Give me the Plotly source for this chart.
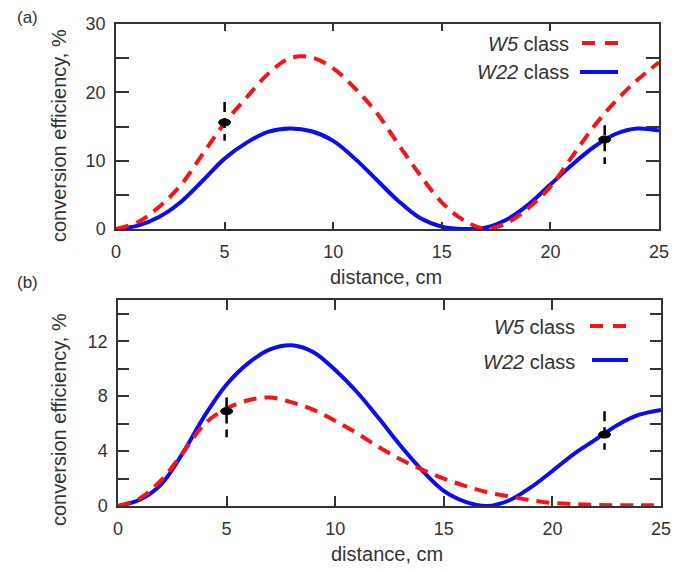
import plotly.graph_objects as go

# ---------------- data ----------------
dist = list(range(0, 26))

# panel (a)
a_w5 = [0, 1.0, 3.3, 6.5, 11.0, 15.5, 19.2, 22.7, 25.0, 25.1, 23.5, 20.6, 17.0, 12.4,
        7.9, 3.9, 1.3, 0.05, 0.9, 3.1, 6.2, 10.6, 15.0, 18.7, 21.8, 24.4]
a_w22 = [0, 0.5, 1.8, 4.0, 7.1, 10.3, 12.6, 14.2, 14.7, 14.3, 12.9, 10.3, 7.2, 4.1,
         1.6, 0.35, 0.0, 0.2, 1.4, 3.6, 6.5, 9.4, 12.0, 13.9, 14.7, 14.4]
a_meas_x = [5.0, 22.5]
a_meas_y = [15.6, 13.1]
a_err_plus = [3.0, 2.1]
a_err_minus = [2.7, 3.6]

# panel (b)
b_w5 = [0, 0.55, 1.9, 3.9, 6.0, 7.1, 7.7, 7.9, 7.55, 7.0, 6.2, 5.3, 4.3, 3.4,
        2.65, 2.0, 1.45, 1.0, 0.7, 0.42, 0.22, 0.14, 0.08, 0.06, 0.05, 0.05]
b_w22 = [0, 0.45, 1.6, 3.9, 6.6, 8.85, 10.4, 11.4, 11.7, 11.2, 9.9, 8.3, 6.4, 4.4,
         2.6, 1.1, 0.3, 0.0, 0.4, 1.35, 2.55, 3.8, 4.85, 5.9, 6.65, 7.0]
b_meas_x = [5.0, 22.4]
b_meas_y = [6.9, 5.2]
b_err_plus = [1.0, 1.7]
b_err_minus = [1.9, 1.1]

x_ticks = [0, 5, 10, 15, 20, 25]
a_yticks = [0, 5, 10, 15, 20, 25, 30]
a_yticktext = ["0", "", "10", "", "20", "", "30"]
b_yticks = [0, 2, 4, 6, 8, 10, 12, 14]
b_yticktext = ["0", "", "4", "", "8", "", "12", ""]

series_names = ["<i>W5</i> class", "<i>W22</i> class"]
panel_labels = ["(a)", "(b)"]
x_title = "distance, cm"
y_title = "conversion efficiency, %"

# ---------------- style ----------------
RED = "#f81414"
BLUE = "#0c0cec"
TXT = "#333333"
FONT = "Liberation Sans, Arial, sans-serif"
W, H = 698, 571
OFF = 8  # page body margin

fig = go.Figure()

panels = [
    dict(xa="x", ya="y", w5=a_w5, w22=a_w22, mx=a_meas_x, my=a_meas_y,
         ep=a_err_plus, em=a_err_minus),
    dict(xa="x2", ya="y2", w5=b_w5, w22=b_w22, mx=b_meas_x, my=b_meas_y,
         ep=b_err_plus, em=b_err_minus),
]

shapes = []
for p in panels:
    fig.add_trace(go.Scatter(x=dist, y=p["w22"], mode="lines", xaxis=p["xa"], yaxis=p["ya"],
                             line=dict(color=BLUE, width=4, shape="spline", smoothing=1.0),
                             showlegend=False, name="W22 class"))
    fig.add_trace(go.Scatter(x=dist, y=p["w5"], mode="lines", xaxis=p["xa"], yaxis=p["ya"],
                             line=dict(color=RED, width=4, dash="13px,8px", shape="spline",
                                       smoothing=1.0),
                             showlegend=False, name="W5 class"))
    for xm, ym, ep, em in zip(p["mx"], p["my"], p["ep"], p["em"]):
        fig.add_trace(go.Scatter(x=[xm, xm], y=[ym + ep, ym - em], mode="lines",
                                 xaxis=p["xa"], yaxis=p["ya"],
                                 line=dict(color="black", width=2.5, dash="10px,6px"),
                                 showlegend=False, hoverinfo="skip"))
        shapes.append(dict(type="circle", xref=p["xa"], yref=p["ya"],
                           xsizemode="pixel", ysizemode="pixel",
                           xanchor=xm, yanchor=ym, x0=-6, x1=6, y0=-3.5, y1=3.5,
                           fillcolor="black", line=dict(color="black", width=1)))

axis_common = dict(showline=True, linecolor="#333333", linewidth=1.5, mirror="ticks",
                   ticks="inside", tickcolor="#333333", tickwidth=1.5, showgrid=False,
                   zeroline=False, automargin=False,
                   tickfont=dict(family=FONT, size=18, color=TXT))

def px_x(v):
    return (v - OFF) / W

def px_y(v):
    return 1 - (v - OFF) / H

fig.update_layout(
    width=W, height=H,
    margin=dict(l=0, r=0, t=0, b=0, autoexpand=False),
    paper_bgcolor="white", plot_bgcolor="white",
    showlegend=False,
    xaxis=dict(axis_common, domain=[px_x(116), px_x(659)], range=[0, 25],
               tickvals=x_ticks, ticklen=7, anchor="y", ticklabelstandoff=6),
    yaxis=dict(axis_common, domain=[px_y(229), px_y(24)], range=[0, 30],
               tickvals=a_yticks, ticktext=a_yticktext, ticklen=13, anchor="x",
               ticklabelstandoff=5),
    xaxis2=dict(axis_common, domain=[px_x(118), px_x(661)], range=[0, 25],
                tickvals=x_ticks, ticklen=10, anchor="y2", ticklabelstandoff=6),
    yaxis2=dict(axis_common, domain=[px_y(506), px_y(300)], range=[0, 15],
                tickvals=b_yticks, ticktext=b_yticktext, ticklen=11, anchor="x2",
                ticklabelstandoff=5),
)

ann = []
tf = dict(family=FONT, size=20, color=TXT)


def add_text(text, xc, yc, font, xanchor="center", angle=0):
    ann.append(dict(text=text, x=px_x(xc), y=px_y(yc), xref="paper", yref="paper",
                    xanchor=xanchor, yanchor="middle", showarrow=False,
                    textangle=angle, font=font))


# panel labels
add_text(panel_labels[0], 27, 17, dict(family=FONT, size=17, color=TXT))
add_text(panel_labels[1], 27, 282, dict(family=FONT, size=17, color=TXT))
# axis titles
for xc, yc in [(386, 277), (387, 554)]:
    add_text(x_title, xc, yc, tf)
for yc in [136, 420]:
    add_text(y_title, 59, yc, tf, angle=-90)

# legends (text left of sample line)
legends = [
    dict(tx=571, rows=[44, 72], lines=[(582, 618, 43), (580, 618, 72)]),
    dict(tx=577, rows=[327, 362], lines=[(590, 627, 326), (592, 628, 360)]),
]
styles = [dict(color=RED, width=4, dash="13px,10px"), dict(color=BLUE, width=4)]
for lg in legends:
    for name, ry, (x0, x1, ly), st in zip(series_names, lg["rows"], lg["lines"], styles):
        add_text(name, lg["tx"], ry, tf, xanchor="right")
        shapes.append(dict(type="line", xref="paper", yref="paper",
                           x0=px_x(x0), x1=px_x(x1), y0=px_y(ly), y1=px_y(ly), line=st))

fig.update_layout(annotations=ann, shapes=shapes)
fig.write_html("out.html")
